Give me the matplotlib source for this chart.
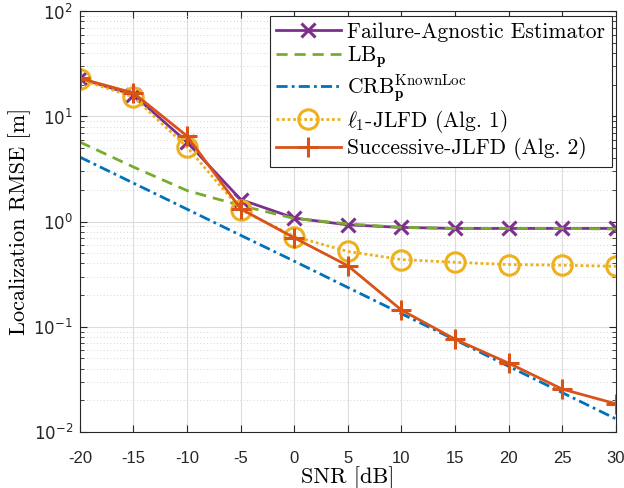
import numpy as np
import matplotlib
matplotlib.use("Agg")
import matplotlib.pyplot as plt
from matplotlib.ticker import LogLocator, NullFormatter

# data
snr = [-20, -15, -10, -5, 0, 5, 10, 15, 20, 25, 30]
fa_est = [23.0, 16.0, 5.7, 1.62, 1.08, 0.93, 0.88, 0.86, 0.86, 0.86, 0.86]
lb_p = [5.7, 3.3, 1.97, 1.42, 1.07, 0.95, 0.88, 0.86, 0.86, 0.86, 0.85]
crb_known = [4.1, 2.32, 1.31, 0.74, 0.42, 0.236, 0.133, 0.075, 0.042, 0.0236, 0.0133]
l1_jlfd = [22.5, 15.3, 5.1, 1.3, 0.72, 0.52, 0.435, 0.41, 0.39, 0.385, 0.375]
succ_jlfd = [23.0, 16.7, 6.5, 1.32, 0.70, 0.38, 0.144, 0.076, 0.045, 0.0255, 0.0185]

xticks = [-20, -15, -10, -5, 0, 5, 10, 15, 20, 25, 30]
yticks = [1e-2, 1e-1, 1e0, 1e1, 1e2]
ytick_labels = [r'$10^{-2}$', r'$10^{-1}$', r'$10^{0}$', r'$10^{1}$', r'$10^{2}$']

plt.rcParams['mathtext.fontset'] = 'cm'
plt.rcParams['axes.formatter.use_mathtext'] = True

fig = plt.figure(figsize=(6.24, 4.88), dpi=100)
ax = fig.add_axes([0.128, 0.115, 0.859, 0.862])

lw = 2.0
ax.semilogy(snr, fa_est, color='#7E2F8E', lw=lw, marker='x', ms=10, mew=2.2,
            label='Failure-Agnostic Estimator')
ax.semilogy(snr, lb_p, color='#77AC30', lw=lw, ls=(0, (4, 2.5)),
            label=r'LB$_\mathbf{p}$')
ax.semilogy(snr, crb_known, color='#0072BD', lw=lw, ls=(0, (4, 1.5, 1, 1.5)),
            label=r'CRB$_\mathbf{p}^{\mathrm{KnownLoc}}$')
ax.semilogy(snr, l1_jlfd, color='#EDB120', lw=lw, ls=(0, (1, 1)), marker='o',
            ms=14, mfc='none', mew=2.2, label=r'$\ell_1$-JLFD (Alg. 1)')
ax.semilogy(snr, succ_jlfd, color='#D95319', lw=lw, marker='+', ms=15, mew=2.2,
            label='Successive-JLFD (Alg. 2)')

ax.set_xlim(-20, 30)
ax.set_ylim(1e-2, 1e2)
ax.set_xticks(xticks)
ax.set_xticklabels([str(t) for t in xticks], family='Liberation Sans', fontsize=12)
ax.set_yticks(yticks)
ax.set_yticklabels(ytick_labels, family='Liberation Sans', fontsize=12)
for lab in ax.get_yticklabels():
    lab.set_math_fontfamily('dejavusans')
ax.yaxis.set_minor_locator(LogLocator(base=10, subs=np.arange(2, 10), numticks=20))
ax.yaxis.set_minor_formatter(NullFormatter())

ax.tick_params(which='both', direction='in', top=True, right=True, colors='#262626')
ax.tick_params(which='major', length=5, width=0.8)
ax.tick_params(axis='x', which='major', pad=14)
ax.tick_params(axis='y', which='major', pad=5)
ax.tick_params(which='minor', length=3, width=0.6)
ax.grid(True, which='major', color='#dcdcdc', lw=0.8)
ax.grid(True, which='minor', axis='y', color='#c8c8c8', lw=0.6, ls=(0, (1, 3)))
for sp in ax.spines.values():
    sp.set_color('#262626')
    sp.set_linewidth(0.8)

ax.set_xlabel('SNR [dB]', family='cmr10', fontsize=16, labelpad=0)
ax.set_ylabel('Localization RMSE [m]', family='cmr10', fontsize=16, labelpad=2)

leg = ax.legend(loc='upper right', prop={'family': 'cmr10', 'size': 15.5},
                fancybox=False, framealpha=1, edgecolor='#262626',
                handlelength=3.0, handletextpad=0.3, labelspacing=0.12,
                borderaxespad=0.2, borderpad=0.3)
leg.get_frame().set_linewidth(0.8)

fig.savefig('out.png', dpi=100)
